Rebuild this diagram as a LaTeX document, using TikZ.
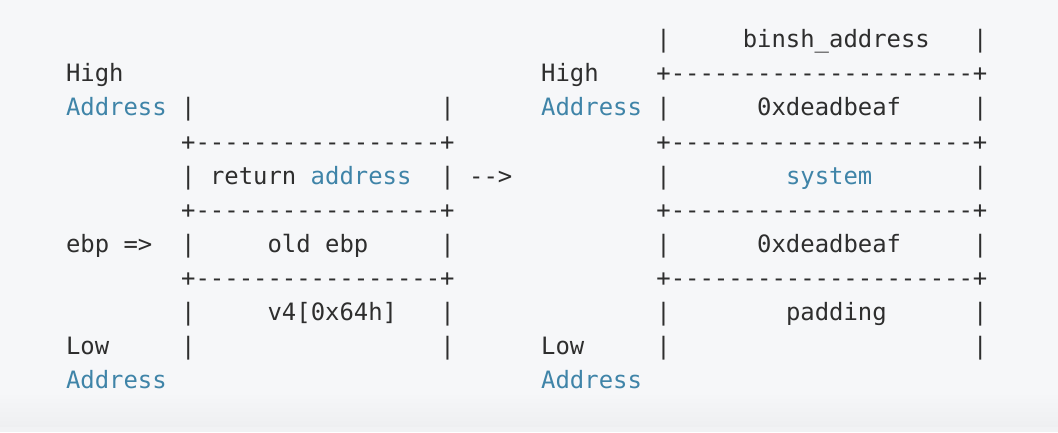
\documentclass[tikz,border=0pt]{standalone}
\usepackage{fontspec}
\setmonofont{DejaVu Sans Mono}
\definecolor{bg}{HTML}{F6F7F9}
\definecolor{bgdark}{HTML}{EEEFF1}
\definecolor{txt}{HTML}{2E2E2E}
\definecolor{kw}{HTML}{3F84A8}
\newcommand\bordL{+-----------------+}
\newcommand\bordR{+---------------------+}
\tikzset{
  t/.style={anchor=base west, inner sep=0pt, outer sep=0pt, text=txt,
    font=\ttfamily\fontsize{23.9}{30}\selectfont},
  k/.style={t, text=kw}
}
\begin{document}
\begin{tikzpicture}[x=1pt,y=1pt]
\useasboundingbox (0,0) rectangle (1058,-432);
\fill[bg] (0,0) rectangle (1058,-432);
\shade[top color=bg, bottom color=bgdark] (0,-392) rectangle (1058,-427);
\fill[bgdark!60!bg] (0,-427) rectangle (1058,-432);
\begin{scope}[shift={(66pt,-47.9pt)}, x=14.4pt, y=-34.04pt]
% left stack
\node[t] (lhigh) at (0,1) {High};
\node[k] (laddr) at (0,2) {Address};
\node[t] (l2a) at (8,2) {|};
\node[t] (l2b) at (26,2) {|};
\node[t] (l3) at (8,3) {\bordL};
\node[t] (l4a) at (8,4) {|};
\node[t] (lret) at (10,4) {return \textcolor{kw}{address}};
\node[t] (l4b) at (26,4) {|};
\node[t] (arrow) at (28,4) {-->};
\node[t] (l5) at (8,5) {\bordL};
\node[t] (lebp) at (0,6) {ebp =>};
\node[t] (l6a) at (8,6) {|};
\node[t] (lold) at (14,6) {old ebp};
\node[t] (l6b) at (26,6) {|};
\node[t] (l7) at (8,7) {\bordL};
\node[t] (l8a) at (8,8) {|};
\node[t] (lv4) at (14,8) {v4[0x64h]};
\node[t] (l8b) at (26,8) {|};
\node[t] (llow) at (0,9) {Low};
\node[t] (l9a) at (8,9) {|};
\node[t] (l9b) at (26,9) {|};
\node[k] (laddr2) at (0,10) {Address};
% right stack
\node[t] (r0a) at (41,0) {|};
\node[t] (rbinsh) at (47,0) {binsh\_address};
\node[t] (r0b) at (63,0) {|};
\node[t] (rhigh) at (33,1) {High};
\node[t] (r1) at (41,1) {\bordR};
\node[k] (raddr) at (33,2) {Address};
\node[t] (r2a) at (41,2) {|};
\node[t] (rdead1) at (48,2) {0xdeadbeaf};
\node[t] (r2b) at (63,2) {|};
\node[t] (r3) at (41,3) {\bordR};
\node[t] (r4a) at (41,4) {|};
\node[k] (rsys) at (50,4) {system};
\node[t] (r4b) at (63,4) {|};
\node[t] (r5) at (41,5) {\bordR};
\node[t] (r6a) at (41,6) {|};
\node[t] (rdead2) at (48,6) {0xdeadbeaf};
\node[t] (r6b) at (63,6) {|};
\node[t] (r7) at (41,7) {\bordR};
\node[t] (r8a) at (41,8) {|};
\node[t] (rpad) at (50,8) {padding};
\node[t] (r8b) at (63,8) {|};
\node[t] (rlow) at (33,9) {Low};
\node[t] (r9a) at (41,9) {|};
\node[t] (r9b) at (63,9) {|};
\node[k] (raddr2) at (33,10) {Address};
\end{scope}
\end{tikzpicture}
\end{document}
